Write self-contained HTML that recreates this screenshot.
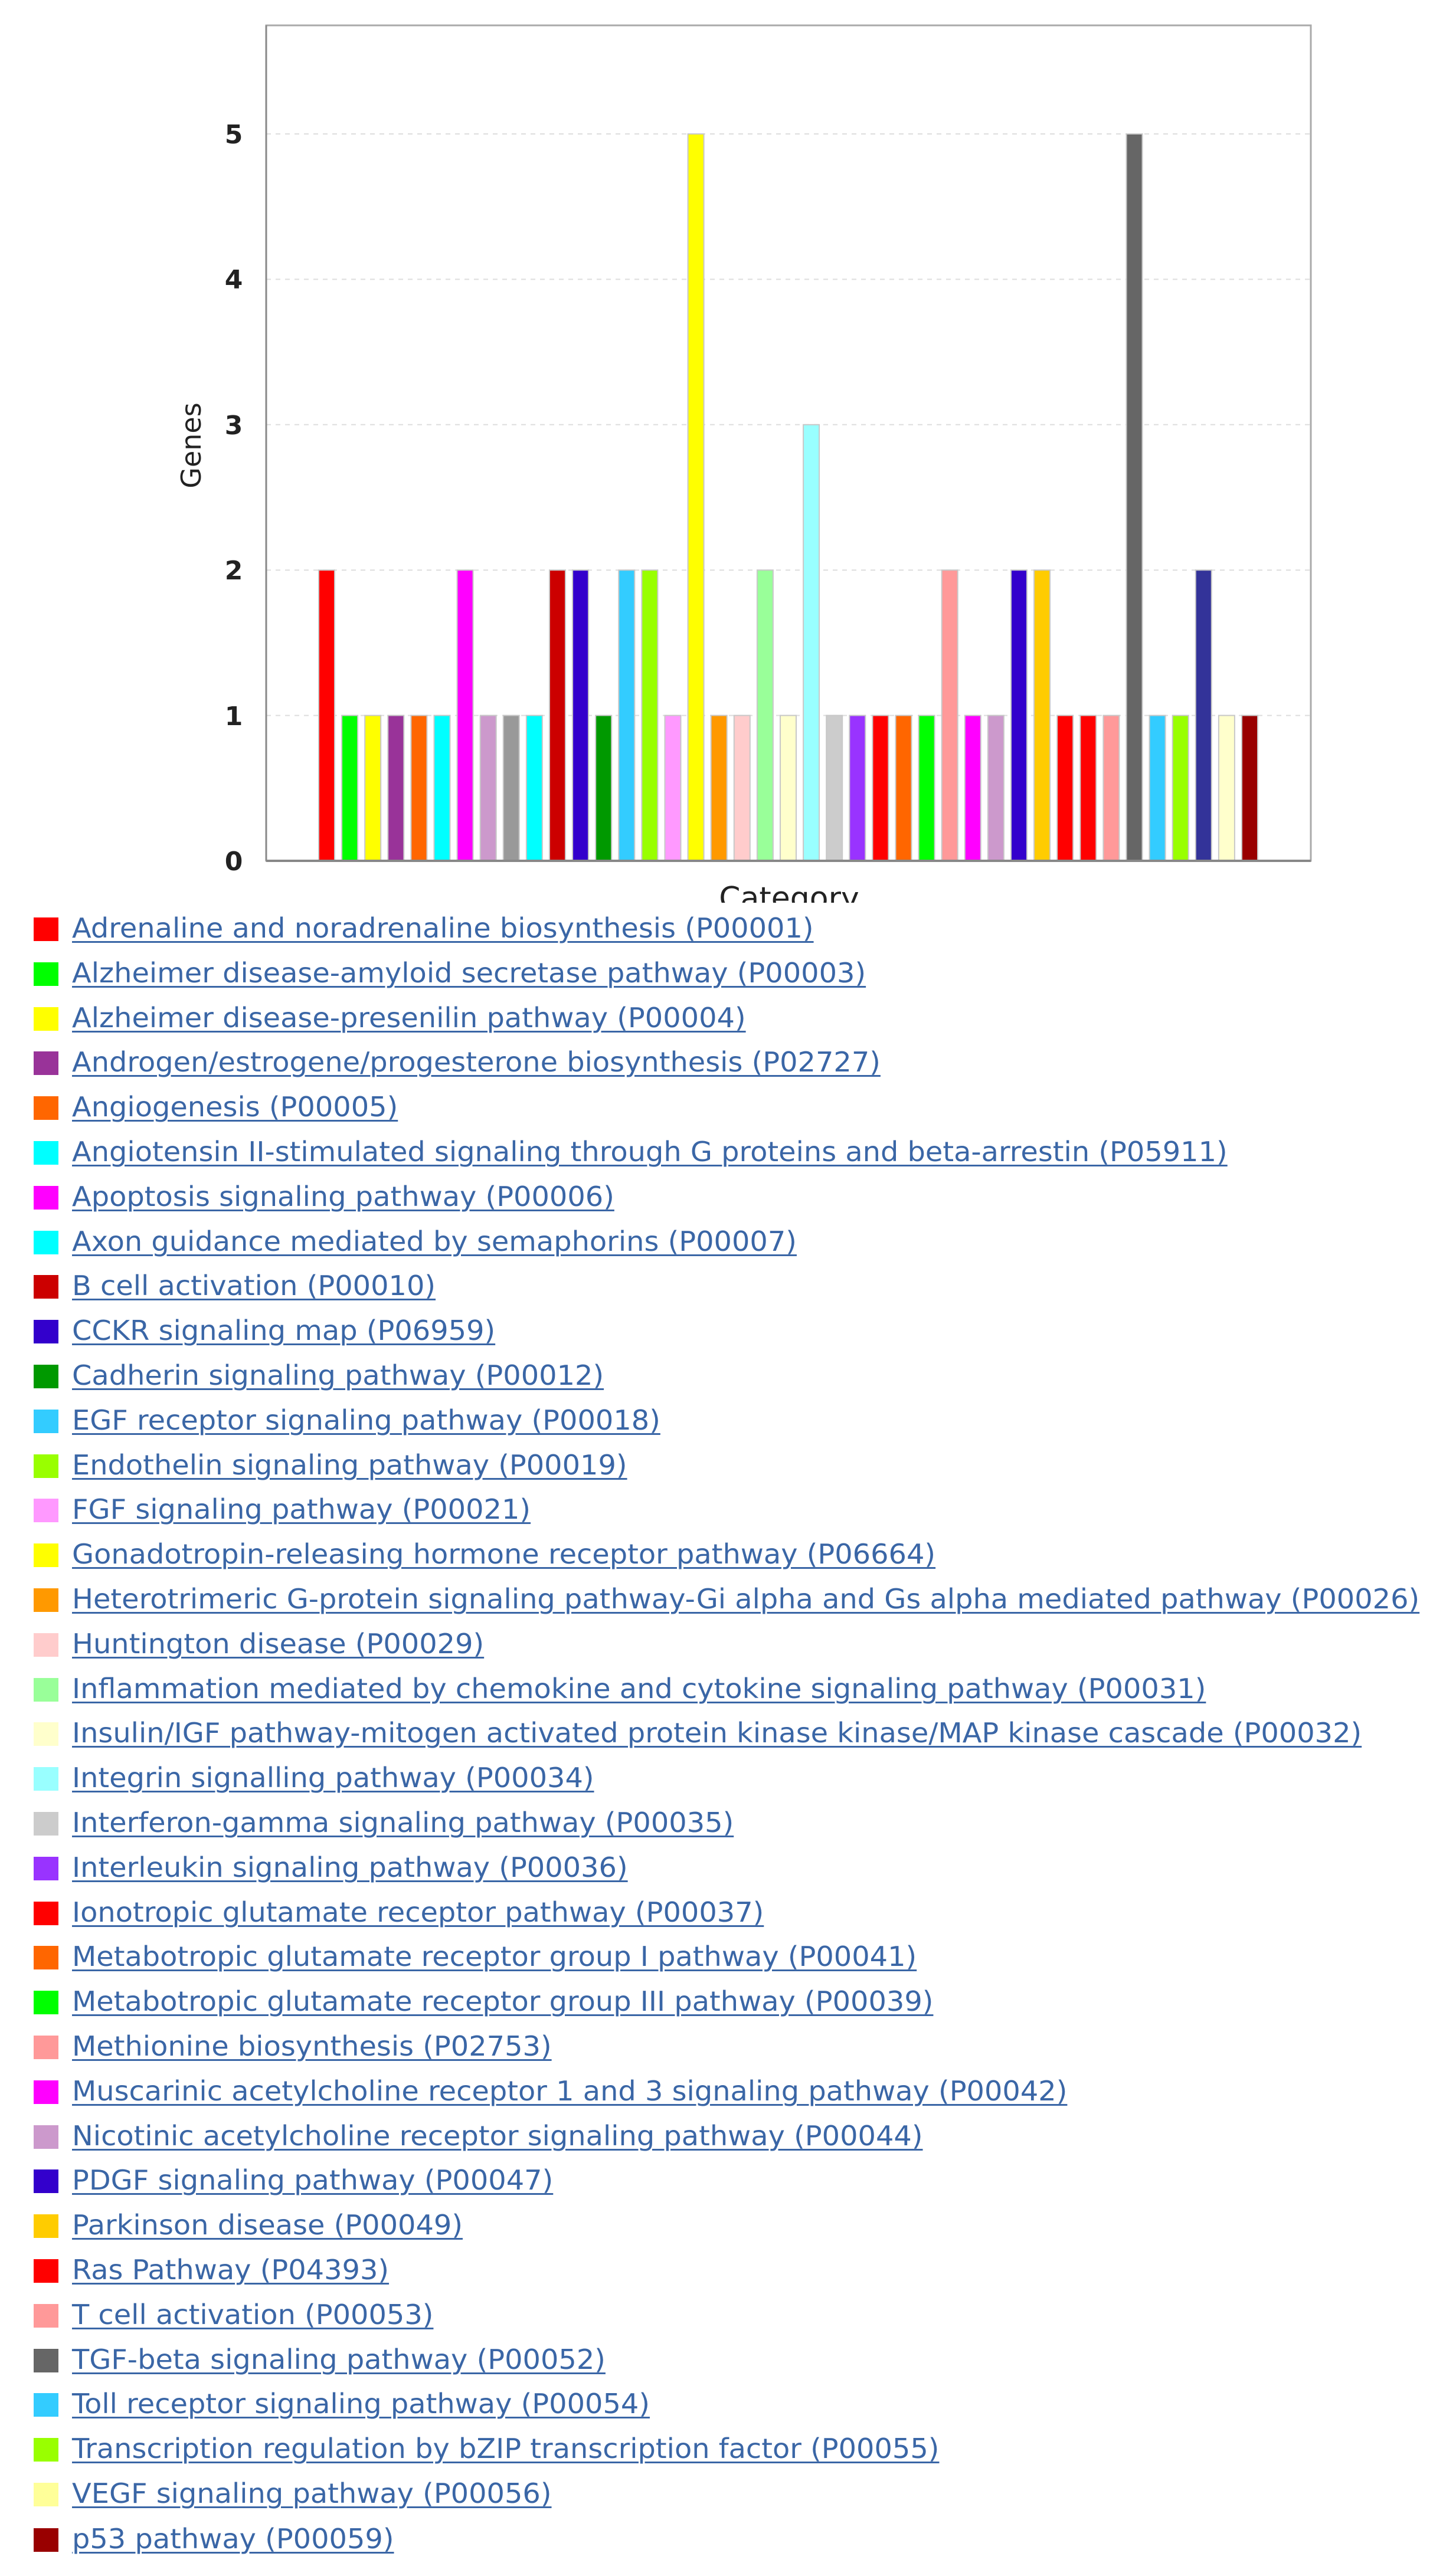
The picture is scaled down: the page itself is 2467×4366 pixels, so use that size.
<!DOCTYPE html>
<html><head><meta charset="utf-8"><style>
html,body{margin:0;padding:0;background:#fff;width:2467px;height:4366px;overflow:hidden;position:relative}
.r{position:absolute;left:57px;height:76px}
.s{position:absolute;left:0;top:0;width:42px;height:40px}
.t{position:absolute;left:65px;top:-9px;white-space:nowrap;font-family:"DejaVu Sans","Liberation Sans",sans-serif;font-size:46px;color:#3a66a6;text-decoration:underline;text-decoration-thickness:3px;text-underline-offset:6px;transform:scaleX(1.04);transform-origin:0 0}
</style></head><body>
<svg width="2467" height="1560" style="position:absolute;left:0;top:0" xmlns="http://www.w3.org/2000/svg">
<rect x="451" y="43" width="1770" height="1416" fill="#fff" stroke="#aaa" stroke-width="3"/>
<g stroke="#ddd" stroke-width="2" stroke-dasharray="8,8">
<line x1="451" x2="2221" y1="1212.6" y2="1212.6"/><line x1="451" x2="2221" y1="966.2" y2="966.2"/><line x1="451" x2="2221" y1="719.8" y2="719.8"/><line x1="451" x2="2221" y1="473.4" y2="473.4"/><line x1="451" x2="2221" y1="227" y2="227"/>
</g>
<g font-family="DejaVu Sans,sans-serif" font-size="44" font-weight="bold" fill="#222" text-anchor="middle">
<text x="396" y="1475">0</text><text x="396" y="1229">1</text><text x="396" y="982">2</text><text x="396" y="736">3</text><text x="396" y="489">4</text><text x="396" y="243">5</text>
</g>
<text transform="translate(340,755) rotate(-90)" font-family="DejaVu Sans,sans-serif" font-size="46" fill="#222" text-anchor="middle">Genes</text>
<text x="1337" y="1540" font-family="DejaVu Sans,sans-serif" font-size="52" fill="#222" text-anchor="middle">Category</text>
<rect x="0" y="1530" width="2467" height="30" fill="#fff"/>
<g stroke="#c8c8c8" stroke-width="2">
<rect x="540" y="966.2" width="27" height="492.8" fill="#ff0000"/>
<rect x="579.1" y="1212.6" width="27" height="246.4" fill="#00ff00"/>
<rect x="618.2" y="1212.6" width="27" height="246.4" fill="#ffff00"/>
<rect x="657.3" y="1212.6" width="27" height="246.4" fill="#993399"/>
<rect x="696.4" y="1212.6" width="27" height="246.4" fill="#ff6600"/>
<rect x="735.5" y="1212.6" width="27" height="246.4" fill="#00ffff"/>
<rect x="774.6" y="966.2" width="27" height="492.8" fill="#ff00ff"/>
<rect x="813.7" y="1212.6" width="27" height="246.4" fill="#cc99cc"/>
<rect x="852.8" y="1212.6" width="27" height="246.4" fill="#999999"/>
<rect x="891.9" y="1212.6" width="27" height="246.4" fill="#00ffff"/>
<rect x="931" y="966.2" width="27" height="492.8" fill="#cc0000"/>
<rect x="970.1" y="966.2" width="27" height="492.8" fill="#3300cc"/>
<rect x="1009.2" y="1212.6" width="27" height="246.4" fill="#009900"/>
<rect x="1048.3" y="966.2" width="27" height="492.8" fill="#33ccff"/>
<rect x="1087.4" y="966.2" width="27" height="492.8" fill="#99ff00"/>
<rect x="1126.5" y="1212.6" width="27" height="246.4" fill="#ff99ff"/>
<rect x="1165.6" y="227" width="27" height="1232" fill="#ffff00"/>
<rect x="1204.7" y="1212.6" width="27" height="246.4" fill="#ff9900"/>
<rect x="1243.8" y="1212.6" width="27" height="246.4" fill="#ffcccc"/>
<rect x="1282.9" y="966.2" width="27" height="492.8" fill="#99ff99"/>
<rect x="1322" y="1212.6" width="27" height="246.4" fill="#ffffcc"/>
<rect x="1361.1" y="719.8" width="27" height="739.2" fill="#99ffff"/>
<rect x="1400.2" y="1212.6" width="27" height="246.4" fill="#cccccc"/>
<rect x="1439.3" y="1212.6" width="27" height="246.4" fill="#9933ff"/>
<rect x="1478.4" y="1212.6" width="27" height="246.4" fill="#ff0000"/>
<rect x="1517.5" y="1212.6" width="27" height="246.4" fill="#ff6600"/>
<rect x="1556.6" y="1212.6" width="27" height="246.4" fill="#00ff00"/>
<rect x="1595.7" y="966.2" width="27" height="492.8" fill="#ff9999"/>
<rect x="1634.8" y="1212.6" width="27" height="246.4" fill="#ff00ff"/>
<rect x="1673.9" y="1212.6" width="27" height="246.4" fill="#cc99cc"/>
<rect x="1713" y="966.2" width="27" height="492.8" fill="#3300cc"/>
<rect x="1752.1" y="966.2" width="27" height="492.8" fill="#ffcc00"/>
<rect x="1791.2" y="1212.6" width="27" height="246.4" fill="#ff0000"/>
<rect x="1830.3" y="1212.6" width="27" height="246.4" fill="#ff0000"/>
<rect x="1869.4" y="1212.6" width="27" height="246.4" fill="#ff9999"/>
<rect x="1908.5" y="227" width="27" height="1232" fill="#666666"/>
<rect x="1947.6" y="1212.6" width="27" height="246.4" fill="#33ccff"/>
<rect x="1986.7" y="1212.6" width="27" height="246.4" fill="#99ff00"/>
<rect x="2025.8" y="966.2" width="27" height="492.8" fill="#333399"/>
<rect x="2064.9" y="1212.6" width="27" height="246.4" fill="#ffffcc"/>
<rect x="2104" y="1212.6" width="27" height="246.4" fill="#990000"/>
</g>
<line x1="451" x2="2221" y1="1459" y2="1459" stroke="#888" stroke-width="4"/>
<line x1="451" x2="451" y1="43" y2="1459" stroke="#888" stroke-width="3"/>
</svg>
<div class="r" style="top:1555px"><div class="s" style="background:#ff0000"></div><div class="t">Adrenaline and noradrenaline biosynthesis (P00001)</div></div>
<div class="r" style="top:1631px"><div class="s" style="background:#00ff00"></div><div class="t">Alzheimer disease-amyloid secretase pathway (P00003)</div></div>
<div class="r" style="top:1707px"><div class="s" style="background:#ffff00"></div><div class="t">Alzheimer disease-presenilin pathway (P00004)</div></div>
<div class="r" style="top:1782px"><div class="s" style="background:#993399"></div><div class="t">Androgen/estrogene/progesterone biosynthesis (P02727)</div></div>
<div class="r" style="top:1858px"><div class="s" style="background:#ff6600"></div><div class="t">Angiogenesis (P00005)</div></div>
<div class="r" style="top:1934px"><div class="s" style="background:#00ffff"></div><div class="t">Angiotensin II-stimulated signaling through G proteins and beta-arrestin (P05911)</div></div>
<div class="r" style="top:2010px"><div class="s" style="background:#ff00ff"></div><div class="t">Apoptosis signaling pathway (P00006)</div></div>
<div class="r" style="top:2086px"><div class="s" style="background:#00ffff"></div><div class="t">Axon guidance mediated by semaphorins (P00007)</div></div>
<div class="r" style="top:2161px"><div class="s" style="background:#cc0000"></div><div class="t">B cell activation (P00010)</div></div>
<div class="r" style="top:2237px"><div class="s" style="background:#3300cc"></div><div class="t">CCKR signaling map (P06959)</div></div>
<div class="r" style="top:2313px"><div class="s" style="background:#009900"></div><div class="t">Cadherin signaling pathway (P00012)</div></div>
<div class="r" style="top:2389px"><div class="s" style="background:#33ccff"></div><div class="t">EGF receptor signaling pathway (P00018)</div></div>
<div class="r" style="top:2465px"><div class="s" style="background:#99ff00"></div><div class="t">Endothelin signaling pathway (P00019)</div></div>
<div class="r" style="top:2540px"><div class="s" style="background:#ff99ff"></div><div class="t">FGF signaling pathway (P00021)</div></div>
<div class="r" style="top:2616px"><div class="s" style="background:#ffff00"></div><div class="t">Gonadotropin-releasing hormone receptor pathway (P06664)</div></div>
<div class="r" style="top:2692px"><div class="s" style="background:#ff9900"></div><div class="t">Heterotrimeric G-protein signaling pathway-Gi alpha and Gs alpha mediated pathway (P00026)</div></div>
<div class="r" style="top:2768px"><div class="s" style="background:#ffcccc"></div><div class="t">Huntington disease (P00029)</div></div>
<div class="r" style="top:2844px"><div class="s" style="background:#99ff99"></div><div class="t">Inflammation mediated by chemokine and cytokine signaling pathway (P00031)</div></div>
<div class="r" style="top:2919px"><div class="s" style="background:#ffffcc"></div><div class="t">Insulin/IGF pathway-mitogen activated protein kinase kinase/MAP kinase cascade (P00032)</div></div>
<div class="r" style="top:2995px"><div class="s" style="background:#99ffff"></div><div class="t">Integrin signalling pathway (P00034)</div></div>
<div class="r" style="top:3071px"><div class="s" style="background:#cccccc"></div><div class="t">Interferon-gamma signaling pathway (P00035)</div></div>
<div class="r" style="top:3147px"><div class="s" style="background:#9933ff"></div><div class="t">Interleukin signaling pathway (P00036)</div></div>
<div class="r" style="top:3223px"><div class="s" style="background:#ff0000"></div><div class="t">Ionotropic glutamate receptor pathway (P00037)</div></div>
<div class="r" style="top:3298px"><div class="s" style="background:#ff6600"></div><div class="t">Metabotropic glutamate receptor group I pathway (P00041)</div></div>
<div class="r" style="top:3374px"><div class="s" style="background:#00ff00"></div><div class="t">Metabotropic glutamate receptor group III pathway (P00039)</div></div>
<div class="r" style="top:3450px"><div class="s" style="background:#ff9999"></div><div class="t">Methionine biosynthesis (P02753)</div></div>
<div class="r" style="top:3526px"><div class="s" style="background:#ff00ff"></div><div class="t">Muscarinic acetylcholine receptor 1 and 3 signaling pathway (P00042)</div></div>
<div class="r" style="top:3602px"><div class="s" style="background:#cc99cc"></div><div class="t">Nicotinic acetylcholine receptor signaling pathway (P00044)</div></div>
<div class="r" style="top:3677px"><div class="s" style="background:#3300cc"></div><div class="t">PDGF signaling pathway (P00047)</div></div>
<div class="r" style="top:3753px"><div class="s" style="background:#ffcc00"></div><div class="t">Parkinson disease (P00049)</div></div>
<div class="r" style="top:3829px"><div class="s" style="background:#ff0000"></div><div class="t">Ras Pathway (P04393)</div></div>
<div class="r" style="top:3905px"><div class="s" style="background:#ff9999"></div><div class="t">T cell activation (P00053)</div></div>
<div class="r" style="top:3981px"><div class="s" style="background:#666666"></div><div class="t">TGF-beta signaling pathway (P00052)</div></div>
<div class="r" style="top:4056px"><div class="s" style="background:#33ccff"></div><div class="t">Toll receptor signaling pathway (P00054)</div></div>
<div class="r" style="top:4132px"><div class="s" style="background:#99ff00"></div><div class="t">Transcription regulation by bZIP transcription factor (P00055)</div></div>
<div class="r" style="top:4208px"><div class="s" style="background:#ffff99"></div><div class="t">VEGF signaling pathway (P00056)</div></div>
<div class="r" style="top:4285px"><div class="s" style="background:#990000"></div><div class="t">p53 pathway (P00059)</div></div>
</body></html>
